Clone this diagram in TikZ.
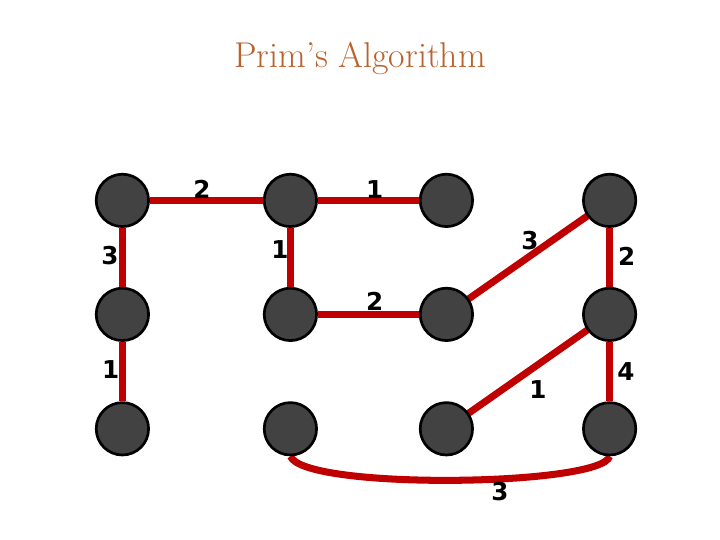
\documentclass[tikz,border=0pt]{standalone}
\usepackage{fontspec}
\newfontfamily\weightfont{DejaVu Sans}
\usetikzlibrary{positioning,backgrounds}
\definecolor{edgered}{RGB}{192,0,0}
\definecolor{vertexgray}{RGB}{66,66,66}
\definecolor{titlebrown}{RGB}{185,98,45}

\begin{document}
\begin{tikzpicture}[
    vertex/.style={circle, draw=black, fill=vertexgray, line width=1.9pt,
                   minimum size=1.31cm, inner sep=0pt},
    tree/.style={draw=edgered, line width=5pt},
    weight/.style={font=\weightfont\bfseries\fontsize{17.5}{20}\selectfont, inner sep=0pt},
    heading/.style={font=\fontsize{25.5}{30}\selectfont, text=titlebrown}
]
\useasboundingbox (0,0) rectangle (18,13.5);

% ---- title ----
\node[heading] (title) at (9,12.05) {Prim's Algorithm};

% ---- vertices: rows r=1..3 top to bottom, columns c=1..4 ----
\foreach \r/\y in {1/8.49, 2/5.64, 3/2.78} {
  \foreach \c/\x in {1/3.06, 2/7.26, 3/11.16, 4/15.24} {
    \node[vertex] (v\r\c) at (\x,\y) {};
  }
}

% ---- tree edges ----
\begin{scope}[on background layer]
  \draw[tree] (v11) -- (v12);
  \draw[tree] (v12) -- (v13);
  \draw[tree] (v11) -- (v21);
  \draw[tree] (v12) -- (v22);
  \draw[tree] (v22) -- (v23);
  \draw[tree] (v23.center) -- (v14.center);
  \draw[tree] (v14) -- (v24);
  \draw[tree] (v21) -- (v31);
  \draw[tree] (v33.center) -- (v24.center);
  \draw[tree] (v24) -- (v34);
  \draw[tree] (v32.south) .. controls +(0.35,-0.85) and +(-0.2,-0.75) .. (v34.south);
\end{scope}

% ---- weights ----
\node[weight] (w1) at (5.05,8.76) {2};
\node[weight] (w2) at (9.37,8.76) {1};
\node[weight] (w3) at (2.75,7.12) {3};
\node[weight] (w4) at (7.0,7.25) {1};
\node[weight] (w5) at (9.37,5.97) {2};
\node[weight] (w6) at (13.25,7.49) {3};
\node[weight] (w7) at (15.67,7.09) {2};
\node[weight] (w8) at (2.77,4.27) {1};
\node[weight] (w9) at (13.45,3.75) {1};
\node[weight] (w10) at (15.65,4.22) {4};
\node[weight] (w11) at (12.5,1.2) {3};

\end{tikzpicture}
\end{document}
